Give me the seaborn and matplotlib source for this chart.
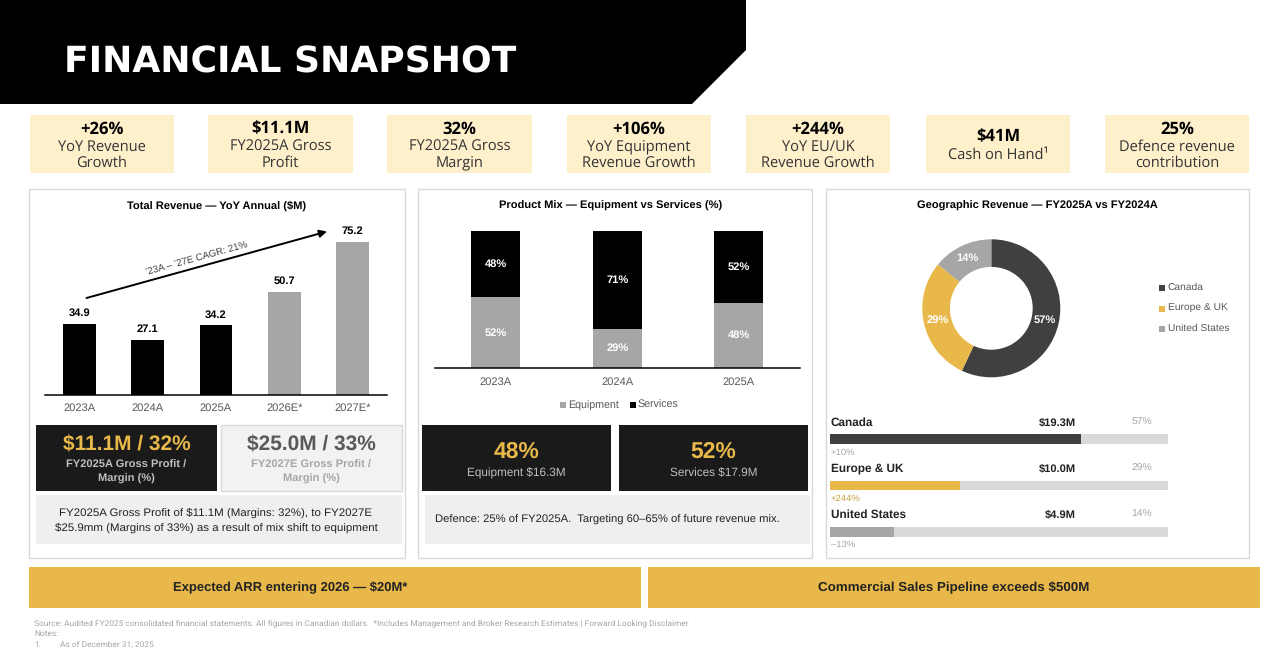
import matplotlib
matplotlib.use("Agg")
import matplotlib.pyplot as plt
from matplotlib.patches import Rectangle, Polygon
import pandas as pd
import seaborn as sns

# Revenue chart
rev_years = ["2023A", "2024A", "2025A", "2026E*", "2027E*"]
rev_values = [34.9, 27.1, 34.2, 50.7, 75.2]
rev_kind = ["actual", "actual", "actual", "est", "est"]

# Product mix chart
mix_years = ["2023A", "2024A", "2025A"]
mix_equipment = [52, 29, 48]
mix_services = [48, 71, 52]

# Geographic revenue
geo_names = ["Canada", "Europe & UK", "United States"]
geo_share = [57, 29, 14]
geo_amount = [19.3, 10.0, 4.9]
geo_growth = ["+10%", "+244%", "–13%"]

# KPI cards across the top
card_values = ["+26%", "$11.1M", "32%", "+106%", "+244%", "$41M", "25%"]
card_labels = ["YoY Revenue\nGrowth", "FY2025A Gross\nProfit", "FY2025A Gross\nMargin",
               "YoY Equipment\nRevenue Growth", "YoY EU/UK\nRevenue Growth",
               "Cash on Hand¹", "Defence revenue\ncontribution"]

BLACK = "#000000"
DARK = "#404040"
PANEL = "#1a1a1a"
GOLD = "#E8B84A"
GREY = "#A6A6A6"
TRACK = "#D9D9D9"
TEXT = "#595959"
CREAM = "#FFF0CC"
SANS = "Liberation Sans"
CARD_FONT = "Open Sans"

sns.set_theme(style="white")
plt.rcParams["font.family"] = [SANS, "DejaVu Sans"]
plt.rcParams["text.hinting"] = "no_hinting"

W, H = 1268, 651
fig = plt.figure(figsize=(W / 100, H / 100), dpi=100, facecolor="white")


def axes_px(x0, y0, x1, y1):
    # axes from pixel box, y counted from the top of the image
    ax = fig.add_axes([x0 / W, 1 - y1 / H, (x1 - x0) / W, (y1 - y0) / H])
    ax.patch.set_alpha(0)
    return ax


# Page layer, drawn in image pixels
page = fig.add_axes([0, 0, 1, 1], zorder=0)
page.set_xlim(0, W)
page.set_ylim(H, 0)
page.axis("off")


def box(x0, y0, x1, y1, color, edge="none", lw=0):
    page.add_patch(Rectangle((x0, y0), x1 - x0, y1 - y0, facecolor=color, edgecolor=edge, linewidth=lw))


def label(x, y, s, size=8, color="#222222", weight="normal", ha="center", family=SANS, **kw):
    # bbox centring sits about a pixel high against the reference
    page.text(x, y + 1, s, fontsize=size, color=color, fontweight=weight, ha=ha, va="center",
              family=family, **kw)


# Banner
page.add_patch(Polygon([(0, 0), (746, 0), (746, 50), (692, 104), (0, 104)], facecolor=BLACK, edgecolor="none"))
label(64, 62, "FINANCIAL SNAPSHOT", size=26, color="white", weight="bold", ha="left", family="DejaVu Sans")

# KPI cards
card_x = [(30, 174), (208, 353), (387, 532), (567, 711), (746, 890), (926, 1070), (1105, 1249)]
for (x0, x1), val, txt in zip(card_x, card_values, card_labels):
    box(x0, 115, x1, 173, CREAM)
    mid = (x0 + x1) / 2
    if "\n" in txt:
        first, second = txt.split("\n")
        label(mid, 128, val, size=12, color=BLACK, weight="bold", family=CARD_FONT)
        label(mid, 146, first, size=10.5, color="#333333", family=CARD_FONT)
        label(mid, 162, second, size=10.5, color="#333333", family=CARD_FONT)
    else:
        label(mid, 136, val, size=12, color=BLACK, weight="bold", family=CARD_FONT)
        label(mid, 154, txt, size=10.5, color="#333333", family=CARD_FONT)

# Panel frames and titles
for x0, x1 in [(29, 405), (418, 812), (826, 1249)]:
    box(x0, 189, x1, 558, "white", edge=TRACK, lw=1)
label(217, 205, "Total Revenue — YoY Annual ($M)", size=8, weight="bold", color=BLACK)
label(611, 205, "Product Mix — Equipment vs Services (%)", size=8, weight="bold", color=BLACK)
label(1037, 205, "Geographic Revenue — FY2025A vs FY2024A", size=8, weight="bold", color=BLACK)

# Revenue bars
ax = axes_px(45.5, 225, 386.5, 395)
rev = pd.DataFrame({"year": rev_years, "value": rev_values, "kind": rev_kind})
sns.barplot(data=rev, x="year", y="value", hue="kind", dodge=False, legend=False,
            palette={"actual": BLACK, "est": GREY}, width=0.48, saturation=1, linewidth=0, ax=ax)
for c in ax.containers:
    ax.bar_label(c, fmt="%.1f", padding=4, fontsize=8, fontweight="bold", color=BLACK)
ax.set_ylim(0, 170 / 2.04)
ax.set_xlim(-0.5, 4.5)
ax.set(xlabel="", ylabel="", yticks=[])
ax.tick_params(axis="x", length=0, pad=6, labelsize=8, labelcolor=TEXT)
sns.despine(ax=ax, left=True)
ax.spines["bottom"].set_color(BLACK)
ax.spines["bottom"].set_linewidth(1.1)

page.annotate("", xy=(327, 231.5), xytext=(86.5, 298),
              arrowprops=dict(arrowstyle="-|>", color=BLACK, lw=1.4, shrinkA=0, shrinkB=0, mutation_scale=11))
label(197, 258, "’23A – ’27E CAGR: 21%", size=7, color="#404040", rotation=15.5, rotation_mode="anchor")

# Gross profit boxes
box(36, 425, 217, 491, PANEL)
label(126.5, 444.5, "$11.1M / 32%", size=15, color=GOLD, weight="bold")
label(126.5, 464, "FY2025A Gross Profit /", size=8, color="#BFBFBF", weight="bold")
label(126.5, 478, "Margin (%)", size=8, color="#BFBFBF", weight="bold")
box(220.5, 425, 402, 491, "#F2F2F2", edge=TRACK, lw=1)
label(311, 444.5, "$25.0M / 33%", size=15, color=TEXT, weight="bold")
label(311, 464, "FY2027E Gross Profit /", size=8, color=GREY, weight="bold")
label(311, 478, "Margin (%)", size=8, color=GREY, weight="bold")
box(36, 495, 402, 544, "#EFEFEF")
label(216, 512, "FY2025A Gross Profit of $11.1M (Margins: 32%), to FY2027E", size=8.25)
label(216, 527, "$25.9mm (Margins of 33%) as a result of mix shift to equipment", size=8.25)

# Product mix stacked bars
ax = axes_px(435, 231.3, 799.5, 368.3)
sns.barplot(x=mix_years, y=mix_equipment, color=GREY, width=0.4, saturation=1, linewidth=0, ax=ax)
sns.barplot(x=mix_years, y=mix_services, bottom=mix_equipment, color=BLACK, width=0.4, saturation=1,
            linewidth=0, ax=ax)
for c, vals in zip(ax.containers, [mix_equipment, mix_services]):
    ax.bar_label(c, labels=[f"{v}%" for v in vals], label_type="center", fontsize=8,
                 fontweight="bold", color="white")
ax.set_ylim(0, 100)
ax.set_xlim(-0.5, 2.5)
ax.set(xlabel="", ylabel="", yticks=[])
ax.tick_params(axis="x", length=0, pad=6, labelsize=8, labelcolor=TEXT)
sns.despine(ax=ax, left=True)
ax.spines["bottom"].set_color(BLACK)
ax.spines["bottom"].set_linewidth(1.1)

box(560, 402, 566, 408, GREY)
label(568, 404.5, "Equipment", size=7.7, color=TEXT, ha="left")
box(630, 402, 636, 408, BLACK)
label(637.5, 404.5, "Services", size=7.7, color=TEXT, ha="left")

box(422, 425, 611, 491, PANEL)
label(516.5, 451, "48%", size=16.5, color=GOLD, weight="bold")
label(516.5, 472, "Equipment $16.3M", size=8.5, color="#BFBFBF")
box(619, 425, 808, 491, PANEL)
label(713.5, 451, "52%", size=16.5, color=GOLD, weight="bold")
label(713.5, 472, "Services $17.9M", size=8.5, color="#BFBFBF")
box(425, 495, 810, 544, "#EFEFEF")
label(435, 519, "Defence: 25% of FY2025A.  Targeting 60–65% of future revenue mix.", size=8.1, ha="left")

# Donut
ax = axes_px(922.3, 239.3, 1060.3, 377.3)
geo_colors = [DARK, GOLD, GREY]
wedges, _, autos = ax.pie(geo_share, colors=geo_colors, startangle=90, counterclock=False, radius=1,
                          wedgeprops=dict(width=0.4, edgecolor="none", linewidth=0), autopct="%d%%",
                          pctdistance=0.8)
for t in autos:
    t.set(color="white", fontweight="bold", fontsize=8)
ax.set_xlim(-1, 1)
ax.set_ylim(-1, 1)

for name, col, y in zip(geo_names, geo_colors, [287.5, 308.5, 328.5]):
    box(1159, y - 3, 1165, y + 3, col)
    label(1167.5, y - 1, name, size=7.4, color=TEXT, ha="left")

# Geographic progress bars
ax = axes_px(830.3, 416.2, 1167.7, 554.8)
track_max = 26
sns.barplot(x=[track_max] * 3, y=geo_names, color=TRACK, orient="h", width=0.216, saturation=1, linewidth=0, ax=ax)
for i, (name, amt) in enumerate(zip(geo_names, geo_amount)):
    sns.barplot(x=[amt], y=[name], color=geo_colors[i], orient="h", width=0.216, saturation=1, linewidth=0, ax=ax)
ax.set_xlim(0, track_max)
ax.set_ylim(2.5, -0.5)
ax.axis("off")

growth_colors = [GREY, "#C9A040", GREY]
for i, name in enumerate(geo_names):
    y = 421.5 + 46 * i
    label(831, y, name, size=8.5, weight="bold", ha="left")
    label(1075.7, y - 0.5, f"${geo_amount[i]:.1f}M", size=8, weight="bold", ha="right")
    label(1152, y - 0.5, f"{geo_share[i]}%", size=7.5, color=GREY, ha="right")
    label(831, y + 29.7, geo_growth[i], size=6.8, color=growth_colors[i], ha="left")

# Gold callouts
box(29, 567, 641, 608, GOLD)
label(290, 586.5, "Expected ARR entering 2026 — $20M*", size=9.4, weight="bold")
box(648, 567, 1260, 608, GOLD)
label(953.5, 586.5, "Commercial Sales Pipeline exceeds $500M", size=9.6, weight="bold")

# Footer
foot = "Source: Audited FY2025 consolidated financial statements. All figures in Canadian dollars.  *Includes Management and Broker Research Estimates | Forward Looking Disclaimer"
label(34, 622, foot, size=6.03, color=GREY, ha="left", family="Roboto")
label(34, 633, "Notes:", size=6.03, color=GREY, ha="left", family="Roboto")
label(34, 644, "1.", size=6.03, color=GREY, ha="left", family="Roboto")
label(60, 644, "As of December 31, 2025", size=6.03, color=GREY, ha="left", family="Roboto")

fig.savefig("out.png", dpi=100)
